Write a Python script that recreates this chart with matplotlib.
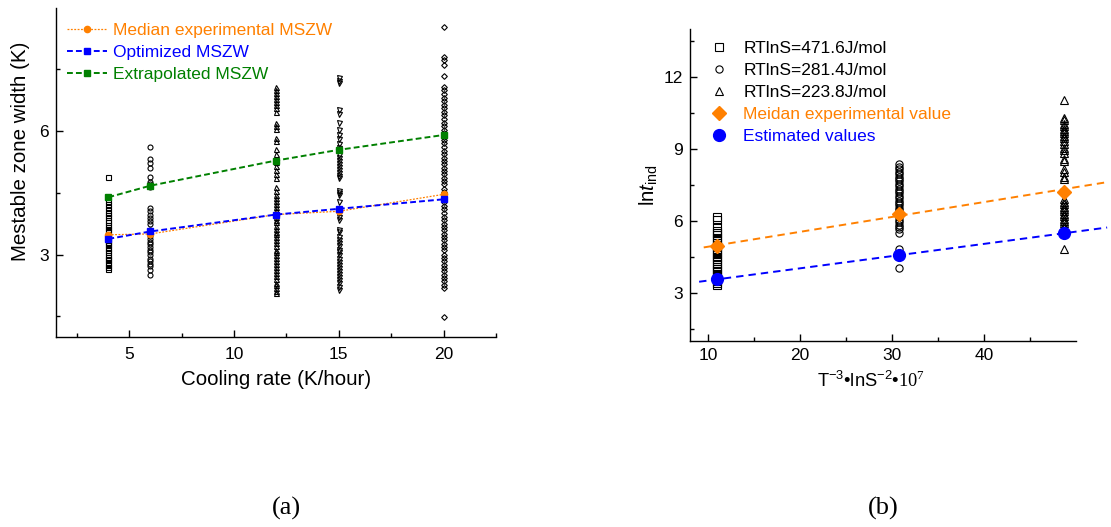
import numpy as np
import matplotlib
matplotlib.use("Agg")
import matplotlib.pyplot as plt
from matplotlib.ticker import FixedLocator

plt.rcParams['font.family'] = ['Liberation Sans', 'DejaVu Sans']
plt.rcParams['mathtext.fontset'] = 'custom'
plt.rcParams['mathtext.rm'] = 'Liberation Sans'
plt.rcParams['mathtext.it'] = 'Liberation Sans:italic'
plt.rcParams['mathtext.sf'] = 'Liberation Serif'

ORANGE = '#FF8000'
BLUE = '#0000FF'
GREEN = '#008000'

# ---- (a) MSZW vs cooling rate ----
rates = [4, 6, 12, 15, 20]
mszw_4 = [2.65, 2.7, 2.74, 2.8, 2.86, 2.9, 2.95, 3.0, 3.06, 3.1, 3.15, 3.22, 3.26, 3.3,
          3.36, 3.42, 3.46, 3.5, 3.56, 3.62, 3.66, 3.72, 3.78, 3.84, 3.9, 3.96, 4.02,
          4.08, 4.15, 4.22, 4.3, 4.87]
mszw_6 = [5.62, 5.31, 5.22, 5.1, 4.89, 4.75, 4.7, 4.65, 4.12, 4.05, 3.95, 3.88, 3.82,
          3.75, 3.6, 3.52, 3.45, 3.38, 3.3, 3.25, 3.18, 3.1, 3.05, 2.98, 2.9, 2.85,
          2.78, 2.72, 2.63, 2.5]
mszw_12 = [7.07, 7.0, 6.92, 6.85, 6.78, 6.7, 6.62, 6.55, 6.45, 6.18, 6.12, 6.05, 5.82,
           5.75, 5.55, 5.45, 5.25, 5.15, 5.05, 4.95, 4.85, 4.65, 4.55, 4.45, 4.38, 4.3,
           4.22, 4.15, 4.08, 4.0, 3.92, 3.85, 3.78, 3.7, 3.62, 3.55, 3.5, 3.42, 3.35,
           3.28, 3.2, 3.12, 3.05, 2.98, 2.92, 2.85, 2.78, 2.7, 2.62, 2.55, 2.48, 2.4,
           2.32, 2.25, 2.18, 2.12, 2.07]
mszw_15 = [7.28, 7.22, 7.15, 6.5, 6.42, 6.2, 6.02, 5.9, 5.8, 5.68, 5.58, 5.42, 5.35,
           5.28, 5.2, 5.12, 5.05, 4.98, 4.9, 4.85, 4.55, 4.5, 4.45, 4.28, 4.0, 3.92,
           3.85, 3.6, 3.55, 3.42, 3.35, 3.28, 3.2, 3.12, 3.05, 2.98, 2.9, 2.82, 2.75,
           2.68, 2.6, 2.52, 2.45, 2.38, 2.3, 2.22, 2.15]
mszw_20 = [8.53, 7.8, 7.72, 7.6, 7.34, 7.07, 6.98, 6.9, 6.8, 6.72, 6.62, 6.55, 6.45,
           6.38, 6.3, 6.2, 6.12, 6.02, 5.95, 5.85, 5.78, 5.7, 5.6, 5.52, 5.45, 5.35,
           5.28, 5.2, 5.1, 5.02, 4.95, 4.85, 4.78, 4.7, 4.6, 4.52, 4.42, 4.35, 4.28,
           4.18, 4.1, 4.0, 3.92, 3.85, 3.75, 3.68, 3.6, 3.5, 3.42, 3.35, 3.25, 3.18,
           3.1, 3.0, 2.92, 2.85, 2.75, 2.68, 2.6, 2.5, 2.42, 2.35, 2.25, 2.2, 1.49]
mszw_sets = [mszw_4, mszw_6, mszw_12, mszw_15, mszw_20]
mszw_markers = ['s', 'o', '^', 'v', 'D']

median_mszw = [3.48, 3.50, 3.97, 4.05, 4.46]
optimized_mszw = [3.38, 3.56, 3.97, 4.11, 4.34]
extrapolated_mszw = [4.39, 4.67, 5.28, 5.54, 5.90]

# ---- (b) ln t_ind vs T^-3 lnS^-2 ----
xb = [11.0, 30.8, 48.7]
lnt_471 = [6.15, 6.05, 5.75, 5.6, 5.5, 5.4, 5.3, 5.22, 5.1, 5.0, 4.92, 4.8, 4.7, 4.62,
           4.5, 4.4, 4.32, 4.2, 4.1, 4.02, 3.9, 3.8, 3.72, 3.6, 3.5, 3.42, 3.35]
lnt_281 = [8.37, 8.25, 8.15, 8.05, 7.95, 7.85, 7.75, 7.65, 7.55, 7.45, 7.35, 7.25, 7.15,
           7.05, 6.95, 6.85, 6.75, 6.65, 6.55, 6.45, 6.35, 6.25, 6.15, 6.05, 5.95, 5.85,
           5.75, 5.65, 5.5, 4.83, 4.03]
lnt_224 = [11.04, 10.3, 10.2, 10.05, 9.95, 9.85, 9.75, 9.65, 9.55, 9.45, 9.35, 9.2,
           9.05, 8.95, 8.85, 8.6, 8.5, 8.15, 8.05, 7.85, 7.75, 6.9, 6.8, 6.7, 6.6, 6.5,
           6.4, 6.3, 6.2, 6.1, 6.0, 5.9, 5.8, 5.7, 5.6, 5.5, 4.83]
lnt_sets = [lnt_471, lnt_281, lnt_224]
lnt_labels = ['RTlnS=471.6J/mol', 'RTlnS=281.4J/mol', 'RTlnS=223.8J/mol']
lnt_markers = ['s', 'o', '^']

median_lnt = [4.97, 6.29, 7.19]
estimated_lnt = [3.58, 4.60, 5.50]
fit_med_x = [9.5, 53.4]
fit_med_y = [4.90, 7.62]
fit_est_x = [9.0, 53.4]
fit_est_y = [3.47, 5.73]

fig = plt.figure(figsize=(11.11, 5.27), dpi=100)
ax1 = fig.add_axes([0.0504, 0.3605, 0.396, 0.6243])
ax2 = fig.add_axes([0.621, 0.3529, 0.3474, 0.592])

for ax in (ax1, ax2):
    ax.spines['top'].set_visible(False)
    ax.spines['right'].set_visible(False)
    for s in ('left', 'bottom'):
        ax.spines[s].set_linewidth(1.0)
    ax.tick_params(which='both', direction='in', labelsize=12.5, width=1.0)
    ax.tick_params(which='major', length=5)
    ax.tick_params(which='minor', length=3)

# (a)
for r, vals, m in zip(rates, mszw_sets, mszw_markers):
    ax1.plot([r] * len(vals), vals, linestyle='none', marker=m, ms=3.6 if m != 'D' else 2.9,
             mfc='none', mec='black', mew=0.8)
ax1.plot(rates, median_mszw, color=ORANGE, lw=0.9, linestyle=(0, (1.5, 1.2)), marker='o',
         ms=4.5, label='Median experimental MSZW')
ax1.plot(rates, optimized_mszw, color=BLUE, lw=1.4, linestyle=(0, (3, 1.6)), marker='s',
         ms=4.0, label='Optimized MSZW')
ax1.plot(rates, extrapolated_mszw, color=GREEN, lw=1.4, linestyle=(0, (3, 1.6)), marker='s',
         ms=5.0, label='Extrapolated MSZW')
ax1.set_xlim(1.5, 22.5)
ax1.set_ylim(1.0, 8.98)
ax1.xaxis.set_major_locator(FixedLocator([5, 10, 15, 20]))
ax1.xaxis.set_minor_locator(FixedLocator([2.5, 7.5, 12.5, 17.5, 22.5]))
ax1.yaxis.set_major_locator(FixedLocator([3, 6]))
ax1.yaxis.set_minor_locator(FixedLocator([1.5, 4.5, 7.5]))
ax1.tick_params(axis='x', pad=7)
ax1.tick_params(axis='y', pad=5)
ax1.set_xlabel('Cooling rate (K/hour)', fontsize=14.8, labelpad=6)
ax1.set_ylabel('Mestable zone width (K)', fontsize=14.8)
ax1.yaxis.set_label_coords(-0.059, 0.565)
leg1 = ax1.legend(loc='upper left', bbox_to_anchor=(0.025, 0.954), frameon=False,
                  fontsize=12.5, handlelength=2.3, handletextpad=0.35, labelspacing=0.4,
                  borderpad=0, borderaxespad=0)
for t, c in zip(leg1.get_texts(), [ORANGE, BLUE, GREEN]):
    t.set_color(c)

# (b)
for xv, vals, m, lab in zip(xb, lnt_sets, lnt_markers, lnt_labels):
    ax2.plot([xv] * len(vals), vals, linestyle='none', marker=m, ms=5.2, mfc='none',
             mec='black', mew=0.8, label=lab)
ax2.plot(fit_med_x, fit_med_y, color=ORANGE, lw=1.4, linestyle=(0, (3.8, 2.6)), clip_on=False)
ax2.plot(fit_est_x, fit_est_y, color=BLUE, lw=1.4, linestyle=(0, (3.8, 2.6)), clip_on=False)
ax2.plot(xb, median_lnt, linestyle='none', marker='D', ms=7, color=ORANGE,
         label='Meidan experimental value')
ax2.plot(xb, estimated_lnt, linestyle='none', marker='o', ms=8.5, color=BLUE,
         label='Estimated values')
ax2.set_xlim(8, 50)
ax2.set_ylim(1, 14)
ax2.xaxis.set_major_locator(FixedLocator([10, 20, 30, 40]))
ax2.xaxis.set_minor_locator(FixedLocator([15, 25, 35, 45]))
ax2.yaxis.set_major_locator(FixedLocator([3, 6, 9, 12]))
ax2.yaxis.set_minor_locator(FixedLocator([1.5, 4.5, 7.5, 10.5, 13.5]))
ax2.tick_params(axis='x', pad=5)
ax2.tick_params(axis='y', pad=5)
ax2.set_xlabel(r'T$^{-3}$•lnS$^{-2}$•$\mathsf{10}^{\mathsf{7}}$', fontsize=13.2)
ax2.xaxis.set_label_coords(0.47, -0.095)
ax2.set_ylabel(r'ln$\mathit{t}_{\mathrm{ind}}$', fontsize=14.8)
ax2.yaxis.set_label_coords(-0.078, 0.5)
leg2 = ax2.legend(loc='upper left', bbox_to_anchor=(0.03, 0.962), frameon=False,
                  fontsize=12.5, handlelength=2.0, handletextpad=0.4, labelspacing=0.4,
                  borderpad=0, borderaxespad=0, numpoints=1)
for t, c in zip(leg2.get_texts(), ['black', 'black', 'black', ORANGE, BLUE]):
    t.set_color(c)

fig.text(0.2574, 0.036, '(a)', family='Liberation Serif', fontsize=19, ha='center', va='center')
fig.text(0.7948, 0.036, '(b)', family='Liberation Serif', fontsize=19, ha='center', va='center')

fig.savefig('out.png', dpi=100)
